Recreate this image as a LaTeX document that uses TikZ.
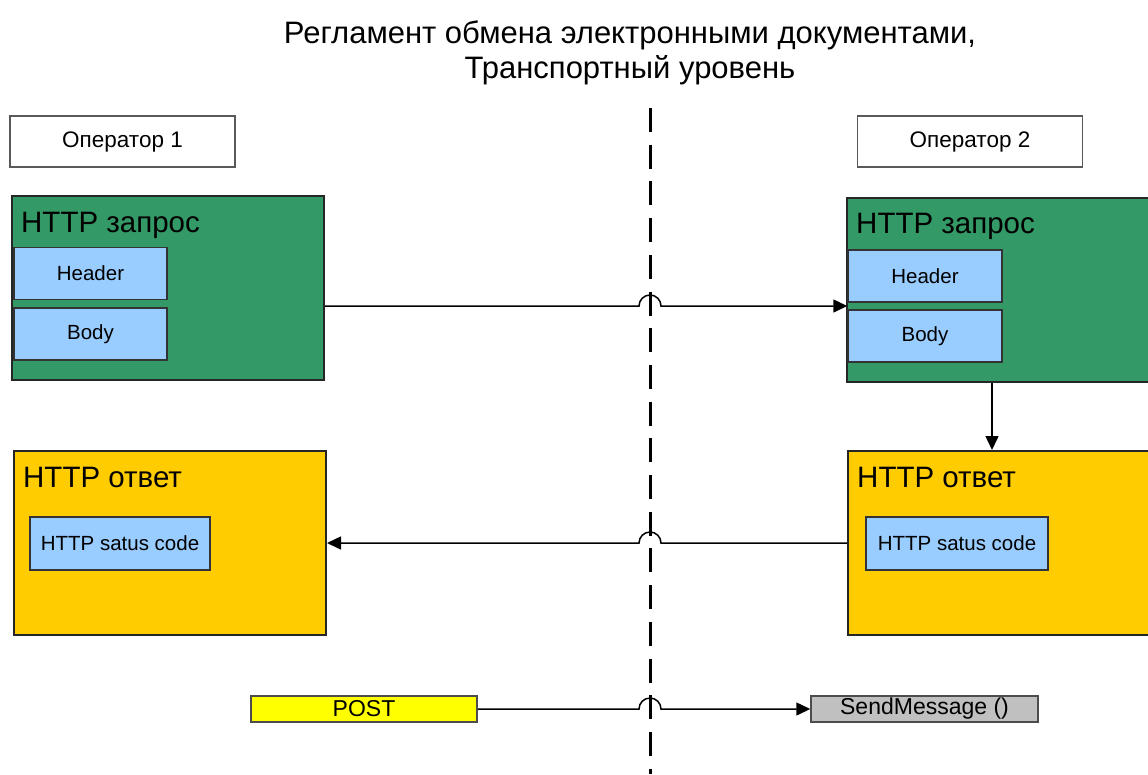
\documentclass[tikz,border=0pt]{standalone}
\usepackage{fontspec}
\setmainfont{Liberation Sans}
\usetikzlibrary{calc,positioning,arrows.meta}

\definecolor{reqgreen}{RGB}{51,153,102}
\definecolor{respyellow}{RGB}{255,204,0}
\definecolor{partblue}{RGB}{153,204,255}
\definecolor{postyellow}{RGB}{255,255,0}
\definecolor{msggray}{RGB}{192,192,192}

\tikzset{
	opbox/.style={draw=black!65, line width=1.5pt, fill=white, inner sep=0pt,
		minimum width=225pt, minimum height=51pt, font=\fontsize{22.5}{26}\selectfont},
	bigbox/.style={draw=black!85, line width=2pt, inner sep=0pt,
		minimum width=312pt, minimum height=184pt},
	bigtitle/.style={anchor=base west, inner sep=0pt, font=\fontsize{29.5}{34}\selectfont},
	partbox/.style={draw=black!80, line width=1.5pt, fill=partblue, inner sep=0pt,
		minimum height=52pt, font=\fontsize{20.5}{24}\selectfont},
	callbox/.style={draw=black!70, line width=1.5pt, inner sep=0pt,
		minimum width=226pt, minimum height=26pt, font=\fontsize{23}{26}\selectfont},
	flow/.style={draw=black, line width=1.5pt, -{Triangle[length=14pt,width=13pt]}}
}

\begin{document}
\begin{tikzpicture}[x=1pt, y=-1pt]
			%%%%% START %%%%%
			
			\clip (0, 0) rectangle (1148, 774);
			
			\node[align=center, font=\fontsize{31}{35}\selectfont] (title) at (630, 53)
				{Регламент обмена электронными документами,\\Транспортный уровень};
			
			% border between the operators
			\coordinate (cuttop) at (650, 108);
			\coordinate (cutbot) at (650, 774);
			\draw[line width=3pt, dash pattern=on 24pt off 12.7pt] (cuttop) -- (cutbot);
			
			\node[opbox] (op1) at (122.5, 141.5) {Оператор 1};
			\node[opbox] (op2) at (970, 141.5) {Оператор 2};
			
			% requests
			\node[bigbox, fill=reqgreen] (req1) at (168, 288) {};
			\node[bigtitle] (req1t) at ($(req1.north west)+(10, 37)$) {HTTP запрос};
			\node[partbox, minimum width=153pt] (hdr1) at (90.5, 273.5) {Header};
			\node[partbox, minimum width=153pt] (body1) at (90.5, 334) {Body};
			
			\node[bigbox, fill=reqgreen] (req2) at (1003, 289.5) {};
			\node[bigtitle] (req2t) at ($(req2.north west)+(10, 37)$) {HTTP запрос};
			\node[partbox, minimum width=154pt] (hdr2) at (925, 276) {Header};
			\node[partbox, minimum width=154pt] (body2) at (925, 336) {Body};
			
			% responses
			\node[bigbox, fill=respyellow] (resp1) at (170, 543) {};
			\node[bigtitle] (resp1t) at ($(resp1.north west)+(10, 37)$) {HTTP ответ};
			\node[partbox, minimum width=180pt, minimum height=53pt] (code1) at (120, 543.5) {HTTP satus code};
			
			\node[bigbox, fill=respyellow] (resp2) at (1004, 543) {};
			\node[bigtitle] (resp2t) at ($(resp2.north west)+(10, 37)$) {HTTP ответ};
			\node[partbox, minimum width=182pt, minimum height=53pt] (code2) at (957, 543.5) {HTTP satus code};
			
			% calls
			\node[callbox, fill=postyellow] (post) at (364, 709) {POST};
			\node[callbox, fill=msggray, minimum width=227pt] (send) at (924.5, 709) {SendMessage ()};
			
			% connectors, hopping over the border
			\coordinate (reqin) at ($(hdr2.south west)!0.5!(body2.north west)$);
			\coordinate (reqout) at (req1.east |- reqin);
			\draw[flow] (reqout) -- ([xshift=-11pt]reqout -| cuttop) arc (180:0:11pt) -- (reqin);
			
			\coordinate (turn) at ($(req2.south west)+(146, 0)$);
			\draw[flow] (turn) -- (turn |- resp2.north);
			
			\draw[flow] (resp2.west) -- ([xshift=11pt]resp2.west -| cuttop) arc (0:180:11pt) -- (resp1.east);
			
			\draw[flow] (post.east) -- ([xshift=-11pt]post.east -| cuttop) arc (180:0:11pt) -- (send.west);
			
			%%%%% END %%%%%
\end{tikzpicture}
\end{document}
